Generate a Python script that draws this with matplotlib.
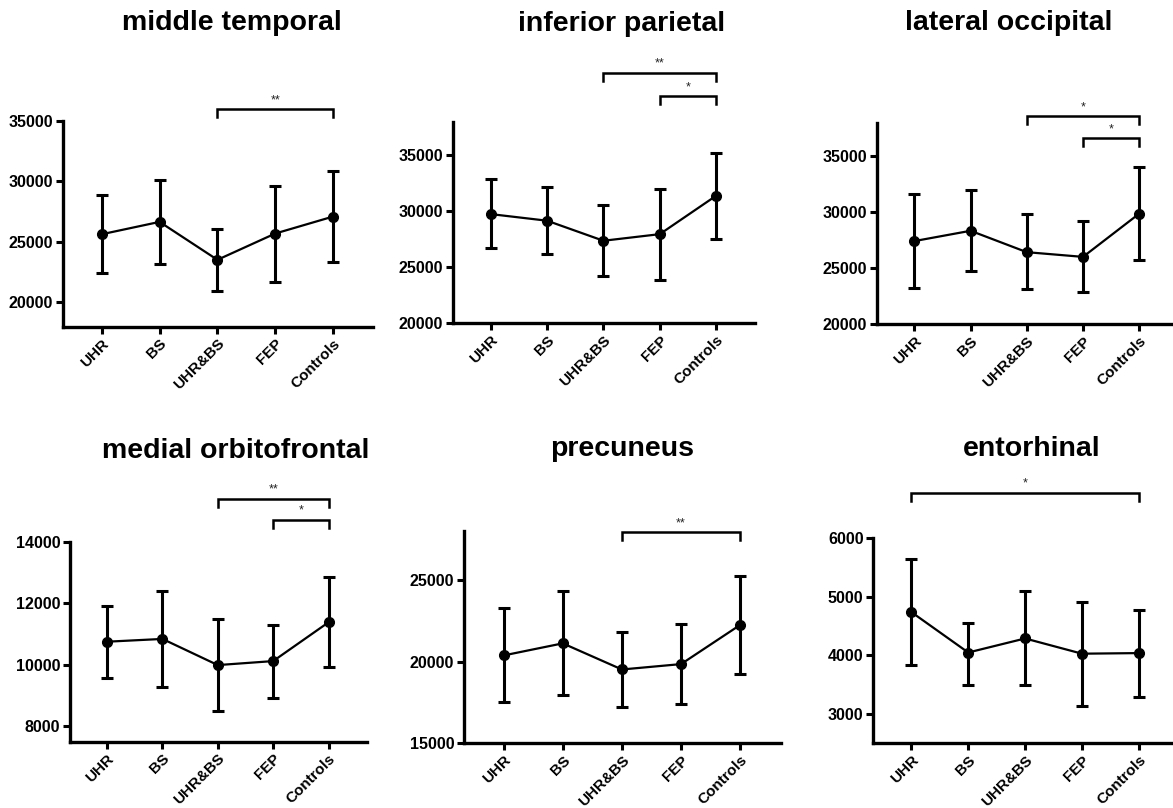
import matplotlib
matplotlib.use("Agg")
import matplotlib.pyplot as plt
import numpy as np

plt.rcParams['font.family'] = ['Liberation Sans', 'DejaVu Sans']

groups = ["UHR", "BS", "UHR&BS", "FEP", "Controls"]

# middle temporal
mt_mean = [25630, 26650, 23520, 25690, 27090]
mt_low = [22420, 23190, 20960, 21680, 23330]
mt_high = [28870, 30110, 26040, 29620, 30880]
# inferior parietal
ip_mean = [29750, 29160, 27370, 27960, 31390]
ip_low = [26710, 26200, 24240, 23880, 27520]
ip_high = [32880, 32200, 30560, 31990, 35210]
# lateral occipital
lo_mean = [27430, 28350, 26440, 26020, 29880]
lo_low = [23260, 24790, 23140, 22840, 25780]
lo_high = [31590, 31980, 29820, 29220, 34010]
# medial orbitofrontal
mo_mean = [10750, 10840, 9990, 10120, 11380]
mo_low = [9580, 9290, 8490, 8910, 9940]
mo_high = [11910, 12390, 11490, 11290, 12840]
# precuneus
pc_mean = [20380, 21120, 19520, 19850, 22250]
pc_low = [17510, 17980, 17240, 17380, 19250]
pc_high = [23280, 24300, 21840, 22330, 25230]
# entorhinal
en_mean = [4740, 4050, 4290, 4030, 4040]
en_low = [3830, 3490, 3490, 3140, 3290]
en_high = [5640, 4560, 5100, 4910, 4780]

titles = ["middle temporal", "inferior parietal", "lateral occipital",
          "medial orbitofrontal", "precuneus", "entorhinal"]

# significance brackets: (from group idx, to group idx, label, bracket level)
mt_sig = [(2, 4, "**", 35930)]
ip_sig = [(2, 4, "**", 42370), (3, 4, "*", 40280)]
lo_sig = [(2, 4, "*", 38590), (3, 4, "*", 36620)]
mo_sig = [(2, 4, "**", 15400), (3, 4, "*", 14710)]
pc_sig = [(2, 4, "**", 27940)]
en_sig = [(0, 4, "*", 6780)]

W, H = 1173, 808
fig = plt.figure(figsize=(W / 100, H / 100), dpi=100)

panels = [
    dict(data=(mt_mean, mt_low, mt_high), sig=mt_sig, rect=(63, 373, 120.7, 326.7),
         ylim=(18000, 35000), yticks=[20000, 25000, 30000, 35000], tc=(232, 30)),
    dict(data=(ip_mean, ip_low, ip_high), sig=ip_sig, rect=(453, 755, 121.7, 323.3),
         ylim=(20000, 38000), yticks=[20000, 25000, 30000, 35000], tc=(622, 31)),
    dict(data=(lo_mean, lo_low, lo_high), sig=lo_sig, rect=(876.7, 1178, 122.7, 324.3),
         ylim=(20000, 38000), yticks=[20000, 25000, 30000, 35000], tc=(1009, 30)),
    dict(data=(mo_mean, mo_low, mo_high), sig=mo_sig, rect=(70, 366.7, 541.7, 741.7),
         ylim=(7500, 14000), yticks=[8000, 10000, 12000, 14000], tc=(236, 458)),
    dict(data=(pc_mean, pc_low, pc_high), sig=pc_sig, rect=(464, 781, 531, 743.3),
         ylim=(15000, 28000), yticks=[15000, 20000, 25000], tc=(622, 456)),
    dict(data=(en_mean, en_low, en_high), sig=en_sig, rect=(873.3, 1178, 538.3, 743.3),
         ylim=(2500, 6000), yticks=[3000, 4000, 5000, 6000], tc=(1032, 456)),
]

x = np.arange(len(groups))
for p, title in zip(panels, titles):
    l, r, t, b = p["rect"]
    ax = fig.add_axes([l / W, 1 - b / H, (r - l) / W, (b - t) / H])
    mean, low, high = [np.array(v, dtype=float) for v in p["data"]]
    yerr = np.vstack([mean - low, high - mean])
    ax.errorbar(x, mean, yerr=yerr, color="black", linewidth=1.6, elinewidth=2.2,
                capsize=4.5, capthick=2.2, marker="o", markersize=7, zorder=3,
                clip_on=False)
    ax.set_xlim(-0.67, 4.69)
    ax.set_ylim(*p["ylim"])
    ax.set_yticks(p["yticks"])
    ax.set_yticklabels([str(v) for v in p["yticks"]], fontsize=11.5, fontweight="bold")
    ax.set_xticks(x)
    ax.set_xticklabels(groups, rotation=45, ha="right", rotation_mode="anchor",
                       fontsize=11, fontweight="bold")
    for s in ("top", "right"):
        ax.spines[s].set_visible(False)
    for s in ("left", "bottom"):
        ax.spines[s].set_linewidth(2.4)
    ax.tick_params(axis="both", direction="out", length=5, width=2.2, pad=2)
    ax.tick_params(axis="x", pad=2)
    ax.patch.set_alpha(0)

    # significance brackets
    y0, y1 = p["ylim"]
    px_per_unit = (b - t) / (y1 - y0)
    drop = 8 / px_per_unit
    for i, j, lab, lvl in p["sig"]:
        ax.plot([x[i], x[i], x[j], x[j]], [lvl - drop, lvl, lvl, lvl - drop],
                color="black", linewidth=1.8, clip_on=False, solid_joinstyle="miter")
        ax.text((x[i] + x[j]) / 2, lvl + 3 / px_per_unit, lab, ha="center", va="bottom",
                fontsize=9, color="#222222")

    cx, cy = p["tc"]
    fig.text(cx / W, 1 - cy / H, title, ha="center", va="baseline",
             fontsize=20.5, fontweight="bold")

fig.savefig("out.png", dpi=100)
